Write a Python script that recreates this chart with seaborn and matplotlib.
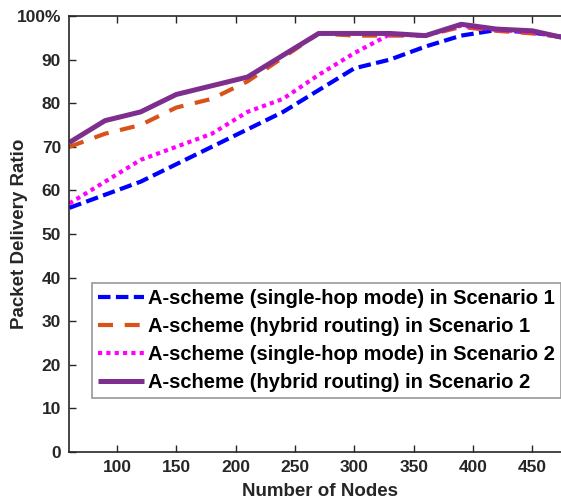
import matplotlib
matplotlib.use("Agg")
import matplotlib.pyplot as plt
import seaborn as sns
import pandas as pd
from matplotlib.ticker import FixedLocator, FixedFormatter

nodes = [60, 90, 120, 150, 180, 210, 240, 270, 300, 330, 360, 390, 420, 450, 480]
single_s1 = [56, 59, 62, 66, 70, 74, 78, 83, 88, 90, 93, 95.5, 96.8, 96.2, 95]
hybrid_s1 = [70, 73, 75, 79, 81, 85, 90.5, 96, 95.5, 95.5, 95.5, 97.5, 96.6, 96, 95]
single_s2 = [57, 62, 67, 70, 73, 78, 81, 86.5, 91.5, 95.8, 95.5, 97.8, 96.8, 96.3, 95]
hybrid_s2 = [71, 76, 78, 82, 84, 86, 91, 96, 96, 96, 95.5, 98.1, 97, 96.6, 94.8]

labels = ["A-scheme (single-hop mode) in Scenario 1",
          "A-scheme (hybrid routing) in Scenario 1",
          "A-scheme (single-hop mode) in Scenario 2",
          "A-scheme (hybrid routing) in Scenario 2"]
xticks = [100, 150, 200, 250, 300, 350, 400, 450]
yticks = [0, 10, 20, 30, 40, 50, 60, 70, 80, 90, 100]
ytick_labels = ["0", "10", "20", "30", "40", "50", "60", "70", "80", "90", "100%"]

sns.set_style("ticks")
plt.rcParams['font.family'] = ['Liberation Sans', 'DejaVu Sans']
plt.rcParams['font.weight'] = 'bold'

fig = plt.figure(figsize=(5.61, 4.99), dpi=100)
W, H = 561, 499
x0, x1, y0, y1 = 69.4, 568, 16, 452
ax = fig.add_axes([x0 / W, 1 - y1 / H, (x1 - x0) / W, (y1 - y0) / H])

colors = ["#0000FF", "#D95319", "#FF00FF", "#7E2F8E"]
styles = [(0, (3, 1.3)), (0, (3.6, 2.8)), (0, (1, 1)), "-"]
widths = [3.0, 3.0, 3.0, 3.6]
series = [single_s1, hybrid_s1, single_s2, hybrid_s2]

for vals, lab, c, ls, lw in zip(series, labels, colors, styles, widths):
    df = pd.DataFrame({"Nodes": nodes, "PDR": vals})
    sns.lineplot(data=df, x="Nodes", y="PDR", ax=ax, color=c, linestyle=ls,
                 linewidth=lw, label=lab)

for ln in ax.get_lines():
    ln.set_dash_capstyle("butt")
    ln.set_solid_capstyle("butt")

ax.set_xlim(60, 480)
ax.set_ylim(0, 100)
ax.xaxis.set_major_locator(FixedLocator(xticks))
ax.yaxis.set_major_locator(FixedLocator(yticks))
ax.yaxis.set_major_formatter(FixedFormatter(ytick_labels))
ax.tick_params(direction="in", length=5, width=1, colors="#262626",
               labelsize=12.5, top=True, right=True, pad=6)
for lab in ax.get_xticklabels() + ax.get_yticklabels():
    lab.set_fontweight("bold")
for s in ax.spines.values():
    s.set_linewidth(1.2)
    s.set_color("#262626")
    s.set_visible(True)

ax.set_xlabel("Number of Nodes", fontsize=13.5, fontweight="bold", color="#262626")
ax.set_ylabel("Packet Delivery Ratio", fontsize=13.5, fontweight="bold", color="#262626")
ax.xaxis.set_label_coords(0.503, -0.072)
ax.yaxis.set_label_coords(-0.083, 0.5)

leg = ax.legend(loc="upper left", bbox_to_anchor=(0.045, 0.388), fontsize=14.5,
                frameon=True, fancybox=False, edgecolor="#7f7f7f",
                handlelength=2.3, handletextpad=0.2, borderpad=0.3,
                labelspacing=0.45, borderaxespad=0)
leg.get_frame().set_linewidth(1.2)
for t in leg.get_texts():
    t.set_fontweight("bold")
    t.set_color("black")

fig.savefig("out.png", dpi=100)
